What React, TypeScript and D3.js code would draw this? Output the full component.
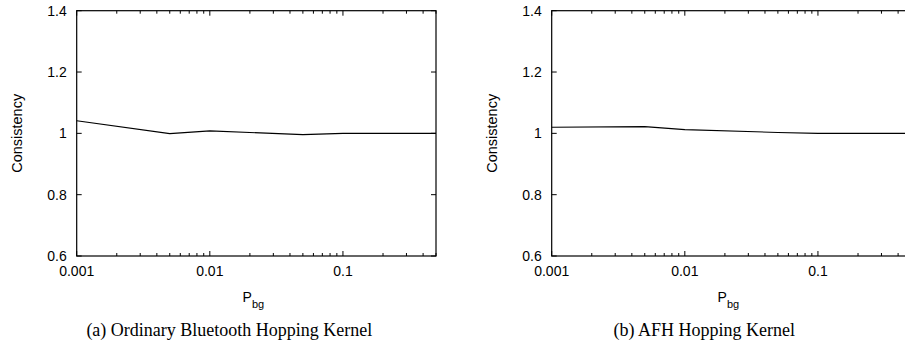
import React from "react";
import { scaleLog, scaleLinear, line } from "d3";

// values
const pbg = [0.001, 0.005, 0.01, 0.05, 0.1, 0.5];
const ordinaryConsistency = [1.041, 0.999, 1.008, 0.996, 1.0, 1.0];
const afhConsistency = [1.02, 1.022, 1.012, 1.003, 1.0, 1.0];
const yTicks = [0.6, 0.8, 1.0, 1.2, 1.4];
const xMajor = [0.001, 0.01, 0.1];
const captions = ["(a) Ordinary Bluetooth Hopping Kernel", "(b) AFH Hopping Kernel"];

const W = 905;
const H = 347;
const sans = "'Liberation Sans', Arial, sans-serif";
const serif = "'Liberation Serif', 'Times New Roman', serif";

function Panel({ left, values, caption }: { left: number; values: number[]; caption: string }) {
  const x = scaleLog().domain([0.001, 0.5]).range([left, left + 359.3]);
  const y = scaleLinear().domain([0.6, 1.4]).range([256, 10.7]);
  const [x0, x1] = x.range();
  const [yb, yt] = y.range();

  const minor: number[] = [];
  [0.001, 0.01, 0.1].forEach((d) => {
    for (let k = 2; k <= 9; k++) {
      const v = d * k;
      if (v < 0.5 + 1e-9) minor.push(v);
    }
  });

  const path = line<number>()
    .x((_, i) => x(pbg[i]))
    .y((d) => y(d))(values);

  const cx = (x0 + x1) / 2;

  return (
    <g>
      {yTicks.map((t) => (
        <g key={"y" + t}>
          <line x1={x0} x2={x0 + 5} y1={y(t)} y2={y(t)} stroke="#000" />
          <line x1={x1} x2={x1 - 5} y1={y(t)} y2={y(t)} stroke="#000" />
          <text x={x0 - 10} y={y(t)} dy="0.35em" textAnchor="end" fontFamily={sans} fontSize={14}>
            {t === 1 ? "1" : t.toFixed(1)}
          </text>
        </g>
      ))}
      {xMajor.map((t) => (
        <g key={"x" + t}>
          <line x1={x(t)} x2={x(t)} y1={yb} y2={yb - 5} stroke="#000" />
          <line x1={x(t)} x2={x(t)} y1={yt} y2={yt + 5} stroke="#000" />
          <text x={x(t)} y={yb + 20} textAnchor="middle" fontFamily={sans} fontSize={14}>
            {String(t)}
          </text>
        </g>
      ))}
      {minor.map((t) => (
        <g key={"m" + t}>
          <line x1={x(t)} x2={x(t)} y1={yb} y2={yb - 3} stroke="#000" />
          <line x1={x(t)} x2={x(t)} y1={yt} y2={yt + 3} stroke="#000" />
        </g>
      ))}
      <rect x={x0} y={yt} width={x1 - x0} height={yb - yt} fill="none" stroke="#000" strokeWidth={1.2} />
      <path d={path || ""} fill="none" stroke="#000" strokeWidth={1.1} />
      <text
        transform={`translate(${x0 - 60},${(yt + yb) / 2}) rotate(-90)`}
        dy="0.35em"
        textAnchor="middle"
        fontFamily={sans}
        fontSize={14.5}
      >
        Consistency
      </text>
      <text x={cx - 3} y={302} textAnchor="middle" fontFamily={sans} fontSize={14}>
        P
        <tspan fontSize={11} dy={6}>bg</tspan>
      </text>
      <text x={cx - 27} y={336} textAnchor="middle" fontFamily={serif} fontSize={18}>
        {caption}
      </text>
    </g>
  );
}

export default function App() {
  return (
    <svg
      width={W}
      height={H}
      style={{ position: "absolute", left: 0, top: 0, background: "#fff" }}
    >
      <Panel left={76.7} values={ordinaryConsistency} caption={captions[0]} />
      <Panel left={551.7} values={afhConsistency} caption={captions[1]} />
    </svg>
  );
}
